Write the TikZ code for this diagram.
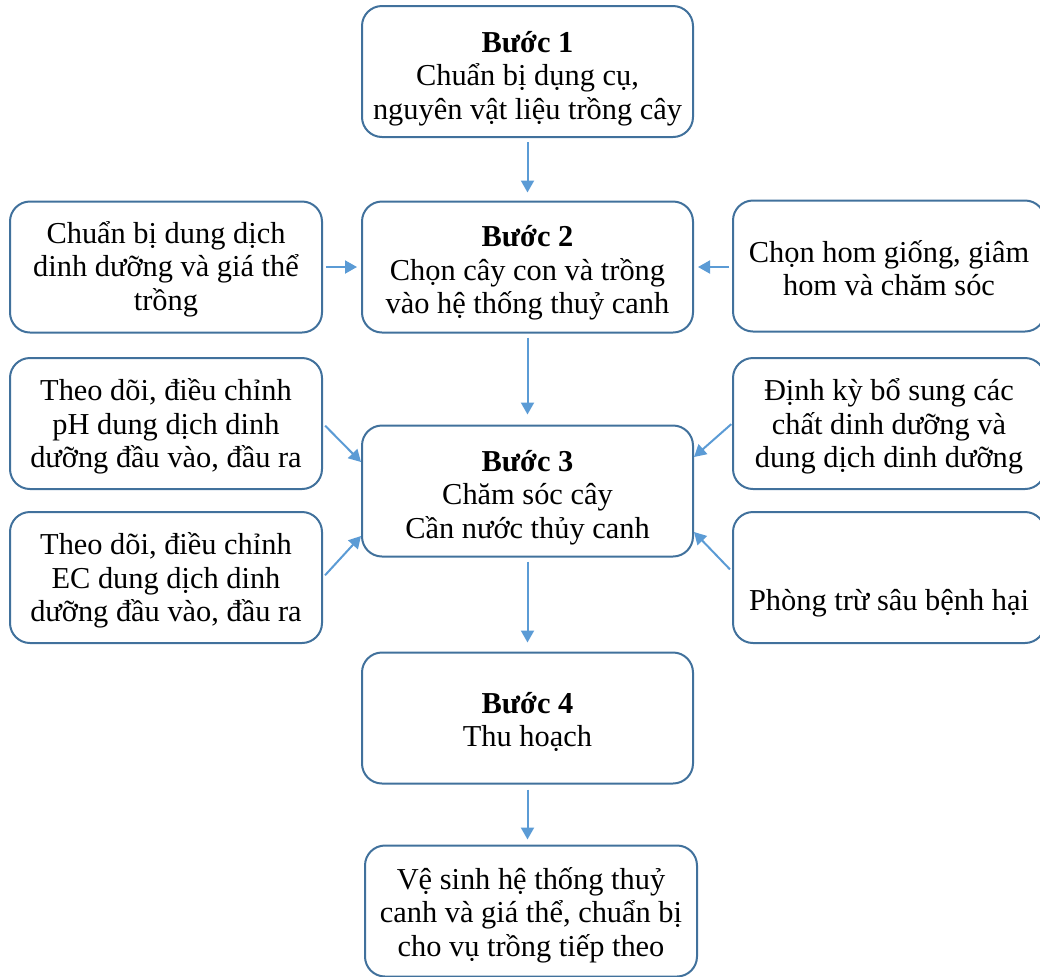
\documentclass[tikz,border=0pt]{standalone}
\usepackage{fontspec}
\setmainfont{Liberation Serif}
\usetikzlibrary{arrows.meta}
\definecolor{boxline}{HTML}{41719C}
\definecolor{arrline}{HTML}{5B9BD5}
\begin{document}
\begin{tikzpicture}[x=0.5pt,y=-0.5pt,
    box/.style={draw=boxline, line width=1pt, rounded corners=10pt, minimum width=165.5pt, minimum height=65.5pt, inner sep=0pt},
    side/.style={box, minimum width=156pt},
    txt/.style={inner sep=0pt, align=center, font=\fontsize{15.2}{16.8}\selectfont},
    arr/.style={draw=arrline, line width=1pt, -{Triangle[length=6pt,width=6.5pt]}}]
			\useasboundingbox (0,0) rectangle (1040,976) ;
			\clip (0,0) rectangle (1040,976) ;
			\node[box] (b1) at (527.5,71.5) {};
			\node[box] (b2) at (527.5,267) {};
			\node[box] (b3) at (527.5,491) {};
			\node[box] (b4) at (527.5,718) {};
			\node[box, minimum width=166pt] (b5) at (531,911) {};
			\node[side] (l1) at (166,267) {};
			\node[side] (l2) at (166,423.5) {};
			\node[side] (l3) at (166,577.5) {};
			\node[side] (r1) at (889,266) {};
			\node[side] (r2) at (889,423.5) {};
			\node[side] (r3) at (889,577.5) {};
			\node[txt] (b1t) at ([yshift=-3.5pt]b1) {\textbf{Bước 1}\\Chuẩn bị dụng cụ,\\nguyên vật liệu trồng cây};
			\node[txt] (b2t) at ([yshift=-3pt]b2) {\textbf{Bước 2}\\Chọn cây con và trồng\\vào hệ thống thuỷ canh};
			\node[txt] (b3t) at ([yshift=-3.2pt]b3) {\textbf{Bước 3}\\Chăm sóc cây\\Cần nước thủy canh};
			\node[txt] (b4t) at ([yshift=-2pt]b4) {\textbf{Bước 4}\\Thu hoạch};
			\node[txt] (b5t) at ([yshift=-2pt]b5) {Vệ sinh hệ thống thuỷ\\canh và giá thể, chuẩn bị\\cho vụ trồng tiếp theo};
			\node[txt] (l1t) at ([yshift=-1pt]l1) {Chuẩn bị dung dịch\\dinh dưỡng và giá thể\\trồng};
			\node[txt] (l2t) at ([yshift=-1.5pt]l2) {Theo dõi, điều chỉnh\\pH dung dịch dinh\\dưỡng đầu vào, đầu ra};
			\node[txt] (l3t) at ([yshift=-1.5pt]l3) {Theo dõi, điều chỉnh\\EC dung dịch dinh\\dưỡng đầu vào, đầu ra};
			\node[txt] (r1t) at ([yshift=-1pt]r1) {Chọn hom giống, giâm\\hom và chăm sóc};
			\node[txt] (r2t) at ([yshift=-1.5pt]r2) {Định kỳ bổ sung các\\chất dinh dưỡng và\\dung dịch dinh dưỡng};
			\node[txt] (r3t) at ([yshift=-13pt]r3) {Phòng trừ sâu bệnh hại};
			\draw[arr, shorten <=2pt, shorten >=4pt] (b1) -- (b2);
			\draw[arr, shorten <=2pt, shorten >=5pt] (b2) -- (b3);
			\draw[arr, shorten <=2pt, shorten >=4.5pt] (b3) -- (b4);
			\draw[arr, shorten <=2.5pt, shorten >=2.5pt] (b4.south) -- (b4.south |- b5.north);
			\draw[arr, shorten <=1.5pt, shorten >=2pt] (l1) -- (b2);
			\draw[arr, shorten <=1.5pt, shorten >=2pt] (r1.west |- b2.east) -- (b2);
			\draw[arr, shorten <=1.5pt] (l2.east) -- ([yshift=14.5pt]b3.west);
			\draw[arr, shorten <=1.5pt] (l3.east) -- ([yshift=-22.5pt]b3.west);
			\draw[arr, shorten <=0.5pt] (r2.west) -- ([yshift=17pt]b3.east);
			\draw[arr, shorten <=1.5pt] ([yshift=3pt]r3.west) -- ([yshift=-20.5pt]b3.east);
		\end{tikzpicture}
\end{document}
